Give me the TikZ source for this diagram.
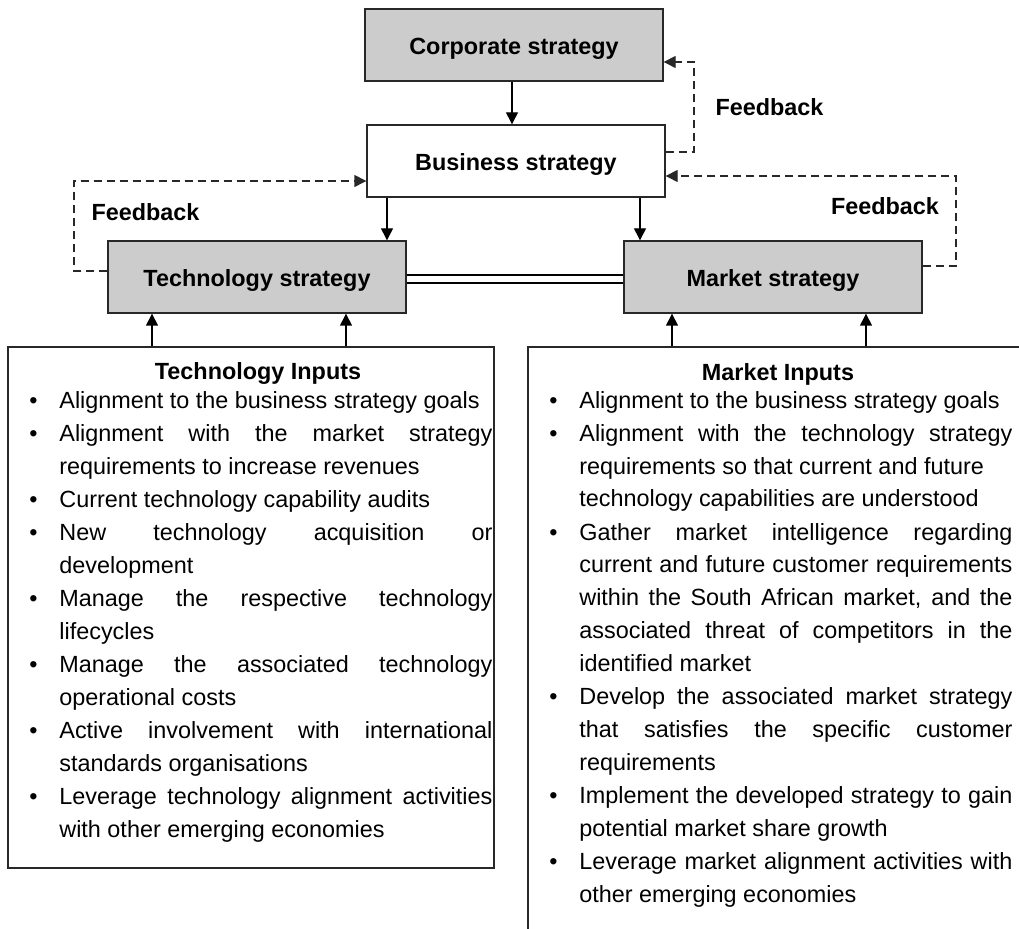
\documentclass[tikz,border=0pt]{standalone}
\usepackage{fontspec}
\setmainfont{Liberation Sans}
\usetikzlibrary{arrows.meta}
\newcommand\fullline[1]{\leavevmode\hbox to \linewidth{#1}}
\newenvironment{blist}{\begin{list}{\textbullet}{\setlength\leftmargin{15pt}\setlength\labelsep{11pt}\setlength\labelwidth{4pt}\setlength\itemsep{0.2pt}\setlength\topsep{0pt}\setlength\partopsep{0pt}\setlength\parsep{0pt}\def\makelabel##1{\hbox to \labelwidth{##1\hfil}}}}{\end{list}}
\definecolor{boxgray}{RGB}{204,204,204}
\definecolor{edge}{RGB}{40,40,40}
\tikzset{
  stratbox/.style={draw=edge, line width=0.7pt, minimum width=149pt, minimum height=36pt, inner sep=0pt, text height=10pt, text depth=0pt, font=\fontsize{11.7pt}{14pt}\selectfont\bfseries},
  inbox/.style={draw=edge, line width=0.7pt, inner sep=0pt},
  arr/.style={draw=black, line width=0.7pt, -{Triangle[length=6pt,width=6pt]}},
  fb/.style={draw=edge, line width=0.7pt, dash pattern=on 4pt off 2.5pt, -{Triangle[length=6pt,width=6pt]}},
  lbl/.style={font=\fontsize{11.7pt}{14pt}\selectfont\bfseries, inner sep=0pt},
  listtext/.style={anchor=north west, inner sep=0pt, text width=231.5pt, align=justify, font=\fontsize{11.7pt}{16.4pt}\selectfont}
}
\begin{document}
\begin{tikzpicture}[x=0.5pt, y=-0.5pt]
\clip (0,0) rectangle (1019,929);
\fill[white] (0,0) rectangle (1019,929);
% strategy boxes
\node[stratbox, fill=boxgray] (corp) at (514,45) {Corporate strategy};
\node[stratbox, fill=white] (bus) at (516,161) {Business strategy};
\node[stratbox, fill=boxgray] (tech) at (257,277) {Technology strategy};
\node[stratbox, fill=boxgray] (mkt) at (773,277) {Market strategy};
% input boxes
\node[inbox, minimum width=243pt, minimum height=260.5pt] (tin) at (251,607.5) {};
\node[inbox, minimum width=256pt, minimum height=306.5pt] (min) at (784,653.5) {};
% arrows
\draw[arr] (corp.south -| 512,0) -- (bus.north -| 512,0);
\draw[arr] (bus.south -| 387,0) -- (tech.north -| 387,0);
\draw[arr] (bus.south -| 640,0) -- (mkt.north -| 640,0);
\draw[arr] (tin.north -| 152,0) -- (tech.south -| 152,0);
\draw[arr] (tin.north -| 346,0) -- (tech.south -| 346,0);
\draw[arr] (min.north -| 672,0) -- (mkt.south -| 672,0);
\draw[arr] (min.north -| 866,0) -- (mkt.south -| 866,0);
% double link
\draw[draw=black, line width=0.8pt, double=white, double distance=3pt] (tech.east |- 0,279) -- (mkt.west |- 0,279);
% feedback loops
\draw[fb] (bus.east |- 0,152) -- (694,152) |- (corp.east |- 0,62);
\draw[fb] (mkt.east |- 0,266) -- (956,266) |- (bus.east |- 0,176);
\draw[fb] (tech.west |- 0,271) -- (74,271) |- (bus.west |- 0,181);
\node[lbl] (fb1) at (769.5,107) {Feedback};
\node[lbl] (fb2) at (145.5,212) {Feedback};
\node[lbl] (fb3) at (885,206) {Feedback};
% headings
\node[lbl] (th) at (258,374) {Technology Inputs};
\node[lbl] (mh) at (778,374) {Market Inputs};
% lists
\node[listtext] (tl) at (29,375) {\begin{blist}
\item Alignment to the business strategy goals
\item \fullline{Alignment with the market strategy}\newline requirements to increase revenues
\item Current technology capability audits
\item \fullline{New technology acquisition or}\newline development
\item \fullline{Manage the respective technology}\newline lifecycles
\item \fullline{Manage the associated technology}\newline operational costs
\item \fullline{Active involvement with international}\newline standards organisations
\item \fullline{Leverage technology alignment activities}\newline with other emerging economies
\end{blist}};
\node[listtext] (ml) at (549,375) {\begin{blist}
\item Alignment to the business strategy goals
\item \fullline{Alignment with the technology strategy}\newline requirements so that current and future\newline technology capabilities are understood
\item \fullline{Gather market intelligence regarding}\newline \fullline{current and future customer requirements}\newline \fullline{within the South African market, and the}\newline \fullline{associated threat of competitors in the}\newline identified market
\item \fullline{Develop the associated market strategy}\newline \fullline{that satisfies the specific customer}\newline requirements
\item \fullline{Implement the developed strategy to gain}\newline potential market share growth
\item \fullline{Leverage market alignment activities with}\newline other emerging economies
\end{blist}};
\end{tikzpicture}
\end{document}
